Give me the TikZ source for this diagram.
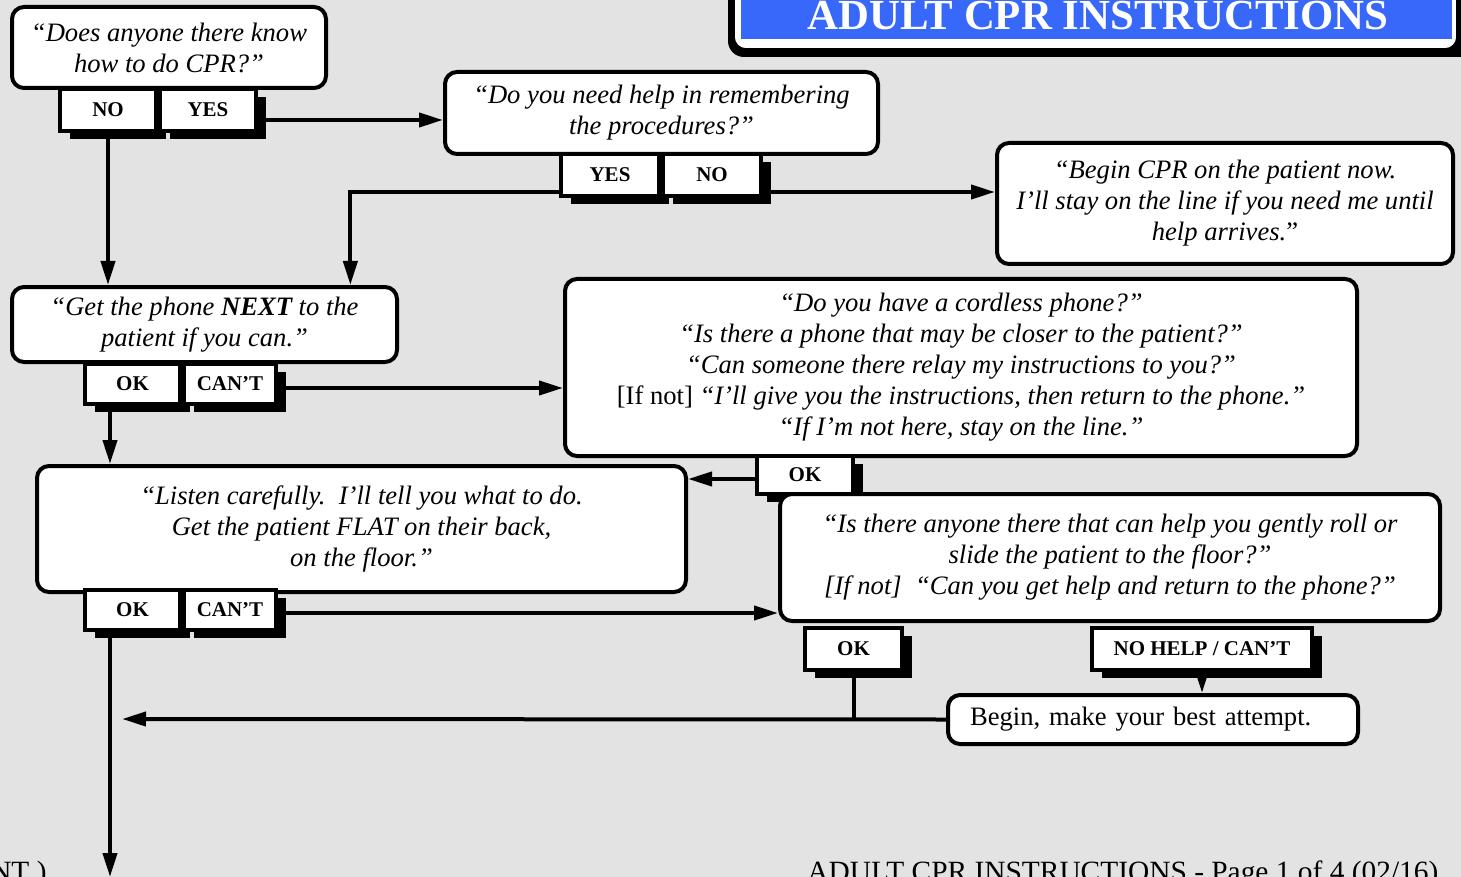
\documentclass[tikz,border=0pt]{standalone}
\usepackage{fontspec}
\setmainfont{Liberation Serif}
\usetikzlibrary{positioning,arrows.meta,shadows,calc}
\definecolor{pagegray}{RGB}{227,227,227}
\definecolor{cprblue}{RGB}{56,104,250}

\begin{document}
\begin{tikzpicture}[x=0.5pt,y=-0.5pt,font=\fontsize{13.3}{15.5}\selectfont,
	qbox/.style={draw, line width=2pt, rounded corners=6pt, fill=white, align=center, inner sep=0pt, font=\fontsize{13.3}{15.5}\selectfont\itshape},
	btn/.style={draw, line width=2pt, fill=white, inner sep=0pt, minimum height=21pt, minimum width=48pt, font=\fontsize{10.5}{12}\selectfont\bfseries, drop shadow={shadow xshift=5pt, shadow yshift=-4pt, fill=black, opacity=1}},
	flow/.style={line width=2pt, -{Triangle[length=12pt,width=7pt]}},
	link/.style={line width=2pt}]
	\useasboundingbox (0,0) rectangle (1461,877);
	\clip (0,0) rectangle (1461,877);
	\fill[pagegray] (0,0) rectangle (1461,877);

	% title banner
	\fill[rounded corners=8pt] (728,-40) rectangle (1480,57);
	\draw[fill=white, line width=0.8pt, rounded corners=6pt] (734,-40) rectangle (1457,49);
	\fill[cprblue] (741,-40) rectangle (1452,39);
	\node[text=white, inner sep=0pt, font=\fontsize{21.4}{24}\selectfont\bfseries] (title) at (1098,16) {ADULT CPR INSTRUCTIONS};

	% questions
	\node[qbox, minimum width=157pt, minimum height=40.5pt] (ask) at (169,47.5) {“Does anyone there know\\how to do CPR?”};
	\node[btn] (askno) at (108,110) {NO};
	\node[btn, right=0pt of askno] (askyes) {YES};

	\node[qbox, minimum width=216.5pt, minimum height=41pt] (helpq) at (661.5,113) {“Do you need help in remembering\\the procedures?”};
	\node[btn, minimum width=49pt] (helpyes) at (610,175) {YES};
	\node[btn, minimum width=49pt, right=0pt of helpyes] (helpno) {NO};

	\node[qbox, minimum width=228pt, minimum height=60.5pt] (begincpr) at (1225,203.5) {“Begin CPR on the patient now.\\I’ll stay on the line if you need me until\\help arrives.\upshape”};

	\node[qbox, minimum width=192.5pt, minimum height=37.5pt] (getphone) at (204.5,324.5) {“Get the phone \textbf{NEXT} to the\\patient if you can.”};
	\node[btn, minimum width=47.5pt, minimum height=20pt] (phoneok) at (132.5,384) {OK};
	\node[btn, minimum width=46pt, minimum height=20pt, right=0pt of phoneok] (phonecant) {CAN’T};

	\node[qbox, minimum width=396pt, minimum height=88.5pt] (cordless) at (961,367.5) {“Do you have a cordless phone?”\\“Is there a phone that may be closer to the patient?”\\“Can someone there relay my instructions to you?”\\{\upshape [If not]} “I’ll give you the instructions, then return to the phone.”\\“If I’m not here, stay on the line.”};
	\node[btn, minimum height=19pt] (cordok) at (805,475) {OK};

	\node[qbox, minimum width=324.5pt, minimum height=63pt] (listen) at (361.5,529) {“Listen carefully.\ \ I’ll tell you what to do.\\Get the patient FLAT on their back,\\on the floor.”};
	\node[btn, minimum width=47.5pt, minimum height=20pt] (listenok) at (132.5,610) {OK};
	\node[btn, minimum width=46pt, minimum height=20pt, right=0pt of listenok] (listencant) {CAN’T};

	\node[qbox, minimum width=330pt, minimum height=63.5pt] (rollq) at (1110,557.5) {“Is there anyone there that can help you gently roll or\\slide the patient to the floor?”\\{[If not]}\ \ “Can you get help and return to the phone?”};
	\node[btn, minimum width=48.5pt] (rollok) at (853.5,649) {OK};
	\node[btn, minimum width=110pt] (rollcant) at (1202,649) {NO HELP / CAN’T};

	\node[qbox, font=\fontsize{13.3}{15.5}\selectfont, minimum width=205pt, minimum height=24.5pt, inner xsep=11pt, text width=183pt, align=left] (bestattempt) at (1153,719.5) {Begin, make your best attempt.};

	% footer
	\node[anchor=base east, inner sep=0pt, font=\fontsize{14.7}{17}\selectfont] (contd) at (47,881) {NT )};
	\node[anchor=base west, inner sep=0pt, font=\fontsize{14.7}{17}\selectfont] (footer) at (807,881) {ADULT CPR INSTRUCTIONS - Page 1 of 4 (02/16)};

	\coordinate (down) at (110,877);
	\coordinate (back) at (122,719);

	% connectors
	\draw[flow] ([yshift=-5pt]askyes.east) -- ([yshift=-5pt]askyes.east -| helpq.west);
	\draw[flow] (askno.south) -- (askno.south |- getphone.north);
	\draw[flow] ([yshift=-8.5pt]helpyes.west) -| ($(getphone.north)!.75!(getphone.north east)$);
	\draw[flow] ([yshift=-8.5pt]helpno.east) -- ([yshift=-8.5pt]helpno.east -| begincpr.west);
	\draw[flow] ([yshift=-2pt]phonecant.east) -- ([yshift=-2pt]phonecant.east -| cordless.west);
	\draw[flow] ([xshift=-11.25pt]phoneok.south) -- ([xshift=-11.25pt]phoneok.south |- listen.north);
	\draw[flow] ([yshift=-2pt]cordok.west) -- ([yshift=-2pt]cordok.west -| listen.east);
	\draw[flow] ([yshift=-1.5pt]listencant.east) -- ([yshift=-1.5pt]listencant.east -| rollq.west);
	\draw[flow] ([xshift=-11.25pt]listenok.south) -- (down);
	\draw[link] (rollok.south) -- (rollok.south |- bestattempt.west);
	\draw[flow] (bestattempt.west) -- (back);
	\draw[flow] (rollcant.south) -- (rollcant.south |- bestattempt.north);

\end{tikzpicture}
\end{document}
